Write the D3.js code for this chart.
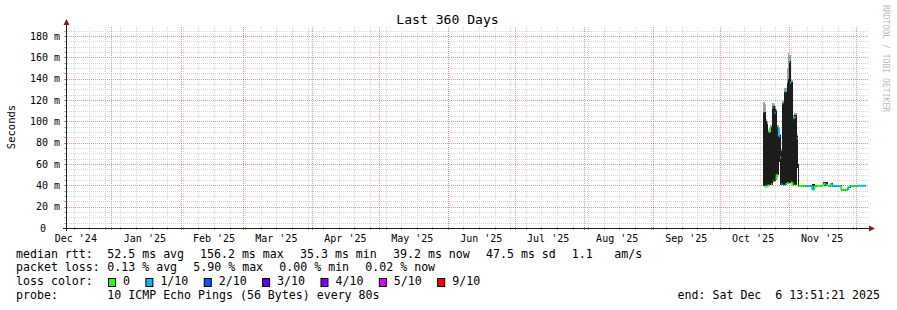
<!DOCTYPE html>
<html><head><meta charset="utf-8">
<script src="https://cdn.jsdelivr.net/npm/d3@7"></script>
<style>
html,body{margin:0;padding:0;background:#fff;}
svg text{font-family:"DejaVu Sans Mono",monospace;fill:#000;white-space:pre;}
</style></head>
<body>
<svg id="c" width="897" height="310"></svg>
<script>
// ---------- data ----------
const startTime = Date.UTC(2024, 11, 11, 13, 51, 21);
const endTime   = Date.UTC(2025, 11, 6, 13, 51, 21);
const yTicks = [0, 20, 40, 60, 80, 100, 120, 140, 160, 180];
const yTickLabels = ["0", "20 m", "40 m", "60 m", "80 m", "100 m", "120 m", "140 m", "160 m", "180 m"];
const monthLabels = ["Dec '24","Jan '25","Feb '25","Mar '25","Apr '25","May '25","Jun '25","Jul '25","Aug '25","Sep '25","Oct '25","Nov '25"];
const lossColors = ["#26ff00","#00b8ff","#0059ff","#5e00ff","#7e00ff","#dd00ff","#ff0000"];
const lossLabels = ["0","1/10","2/10","3/10","4/10","5/10","9/10"];
const medianStats = [52.5, 156.2, 35.3, 39.2, 47.5];
const lossStats = [0.13, 5.90, 0.00, 0.02];
const amps = 1.1;

// bins: day offset from start; RTT values in ms
const binDay = [313,313.5,314,314.5,315,315.5,316,316.5,317,317.5,318,318.5,319,319.5,320,320.5,
  321,321.5,322,322.5,323,323.5,324,324.5,325,325.5,326,326.5,327,327.5,328,328.5,
  329,330,331,332,333,334,335,336,337,338,339,340,341,342,343,344,345,346,347,348,349,350,351,352,353,354,355,356,357,358];
const smokeLo = [39,39,39,39,40,40,40,40,43,43,44,45,48,50,62,40,
  40,40,40,40,40,41,41,42,42,42,40,40,40,40,56,39,
  38.8,38.8,38.8,38.8,38.8,38.8,35.3,38.8,38.8,38.8,39,39.2,39.2,38.8,39.5,38.8,38.8,38.8,38.8,35,35,35,37.8,38.8,38.8,38.8,39,39,39,39];
const smokeHi = [109,109,100,98,90,90,95,95,114,114,112,110,95,95,87,72,
  72,117,117,128,128,136,140,157,137,137,104,104,106,106,86,60,
  40,40,40,40,40,40,41.5,40,40,40,40.3,43.5,43,40,42.5,40,40,40,40,36.3,36.3,36.3,39.5,40,40,40,40.3,40.3,40.3,40.3];
const smokeTop = [118,116,102,100,92,92,97,97,117,116,114,112,97,97,88,74,
  74,119,119,131,131,150,164,162,140,139,106,106,108,108,88,60,
  40,40,40,40,40,40,41.5,40,40,40,40.3,43.5,43,40,42.5,40,40,40,40,36.3,36.3,36.3,39.5,40,40,40,40.3,40.3,40.3,40.3];
const median = [109,39,39,39,40,90,94,41,113,44,108,46,50,94,86,66,
  41,117,40,128,41,42,42,156,136,43,40,103,104,40,84,39,
  39.4,39.4,39.4,39.4,39.4,39.4,36.0,39.4,39.4,39.4,39.6,41.5,40.5,39.4,41.0,39.4,39.4,39.4,39.4,35.6,35.6,35.6,38.5,39.4,39.4,39.4,39.6,39.6,39.6,39.6];
const lossCount = [1,1,0,0,0,0,0,0,0,0,1,0,0,0,1,1,
  1,1,1,1,1,0,0,1,1,0,0,0,1,0,1,0,
  0,0,0,1,1,1,1,0,0,0,0,0,1,0,0,1,1,1,1,0,0,0,1,0,0,0,1,1,1,1];

// ---------- layout ----------
const svg = d3.select("#c");
const X0 = 66, X1 = 868, Y0 = 228, YT = 27;
const x = d3.scaleUtc().domain([startTime, endTime]).range([X0, X1]);
const y = d3.scaleLinear().domain([0, 188.5]).range([Y0, YT]);
const DAY = 86400000;
const lossIdx = n => n >= 9 ? 6 : Math.min(n, 5);
const MINOR = "#d8d8d8", MAJOR = "#f27070";

const g = svg.append("g").attr("shape-rendering", "crispEdges");
d3.range(5, 188, 5).filter(v => v % 20 !== 0).forEach(v => {
  const yy = Math.round(y(v)) + 0.5;
  g.append("line").attr("x1", X0 + 1).attr("x2", X1).attr("y1", yy).attr("y2", yy)
    .attr("stroke", MINOR).attr("stroke-dasharray", "1,1");
  g.append("line").attr("x1", X0 - 2).attr("x2", X0 + 1).attr("y1", yy).attr("y2", yy).attr("stroke", "#b0b0b0");
});
const weeks = d3.utcSunday.range(new Date(startTime), new Date(endTime));
weeks.forEach(d => {
  const xx = Math.round(x(d)) + 0.5;
  g.append("line").attr("x1", xx).attr("x2", xx).attr("y1", YT).attr("y2", Y0)
    .attr("stroke", MINOR).attr("stroke-dasharray", "1,1");
  g.append("line").attr("x1", xx).attr("x2", xx).attr("y1", Y0 - 1).attr("y2", Y0 + 2).attr("stroke", "#b0b0b0");
});
// major grid on top of minor
d3.range(20, 188, 20).forEach(v => {
  const yy = Math.round(y(v)) + 0.5;
  g.append("line").attr("x1", X0 + 1).attr("x2", X1).attr("y1", yy).attr("y2", yy)
    .attr("stroke", MAJOR).attr("stroke-opacity", 0.75).attr("stroke-dasharray", "1,1");
  g.append("line").attr("x1", X0 - 2).attr("x2", X0 + 1).attr("y1", yy).attr("y2", yy).attr("stroke", "#e07070");
});
const months = d3.utcMonth.range(new Date(startTime), new Date(endTime));
months.forEach(d => {
  const xx = Math.round(x(d)) + 0.5;
  g.append("line").attr("x1", xx).attr("x2", xx).attr("y1", YT).attr("y2", Y0)
    .attr("stroke", MAJOR).attr("stroke-opacity", 0.75).attr("stroke-dasharray", "1,1");
  g.append("line").attr("x1", xx).attr("x2", xx).attr("y1", Y0 - 1).attr("y2", Y0 + 2).attr("stroke", "#e07070");
});

// smoke + median
const data = binDay.map((d, i) => ({
  t0: startTime + d * DAY,
  t1: startTime + (i + 1 < binDay.length ? binDay[i + 1] : d + 1) * DAY,
  lo: smokeLo[i], hi: smokeHi[i], top: smokeTop[i], med: median[i], loss: lossCount[i]
}));
const dg = svg.append("g");
const sg = dg.append("g").attr("shape-rendering", "crispEdges");
sg.selectAll("rect.top").data(data).join("rect")
  .attr("x", d => x(d.t0)).attr("width", d => x(d.t1) - x(d.t0) + 0.5)
  .attr("y", d => y(d.top)).attr("height", d => Math.max(0, y(d.hi) - y(d.top)))
  .attr("fill", "#a0a0a0");
sg.selectAll("rect.smk").data(data).join("rect")
  .attr("x", d => x(d.t0)).attr("width", d => x(d.t1) - x(d.t0) + 0.5)
  .attr("y", d => y(d.hi)).attr("height", d => Math.max(0, y(d.lo) - y(d.hi)))
  .attr("fill", "#1c1c1c");
data.forEach((d, i) => {
  const c = lossColors[lossIdx(d.loss)];
  dg.append("line").attr("x1", x(d.t0)).attr("x2", x(d.t1))
    .attr("y1", y(d.med)).attr("y2", y(d.med)).attr("stroke", c).attr("stroke-width", 2);
  const n = data[i + 1];
  if (n && Math.abs(n.med - d.med) < 10) {
    dg.append("line").attr("x1", x(n.t0)).attr("x2", x(n.t0))
      .attr("y1", y(d.med)).attr("y2", y(n.med))
      .attr("stroke", lossColors[lossIdx(n.loss)]).attr("stroke-width", 2);
  }
});

// axes
const ax = svg.append("g");
ax.append("line").attr("x1", X0 + 0.5).attr("x2", X0 + 0.5).attr("y1", 24).attr("y2", Y0 + 3).attr("stroke", "#222");
ax.append("line").attr("x1", X0 - 3).attr("x2", X1 + 2).attr("y1", Y0 + 0.5).attr("y2", Y0 + 0.5).attr("stroke", "#222");
ax.append("path").attr("d", `M${X0 - 2.5},25 L${X0 + 0.5},19 L${X0 + 3.5},25 Z`).attr("fill", "#8b1a1a");
ax.append("path").attr("d", `M${X1 + 1},${Y0 - 2.5} L${X1 + 7},${Y0 + 0.5} L${X1 + 1},${Y0 + 3.5} Z`).attr("fill", "#8b1a1a");

// y tick labels
yTicks.forEach((v, i) => {
  svg.append("text").attr("x", v === 0 ? 46 : 60).attr("y", y(v) + 3.6)
    .attr("text-anchor", "end").attr("font-size", 10).text(yTickLabels[i]);
});
// x labels: month start + 15 days
const labelMonths = d3.utcMonth.range(d3.utcMonth.floor(new Date(startTime)), new Date(endTime));
labelMonths.forEach((d, i) => {
  const cx = x(+d + 15 * DAY);
  if (cx < X0 || cx > X1) return;
  svg.append("text").attr("x", cx).attr("y", 242).attr("text-anchor", "middle")
    .attr("font-size", 10).text(monthLabels[i]);
});

// title & labels
svg.append("text").attr("x", 447.5).attr("y", 24).attr("text-anchor", "middle")
  .attr("font-size", 13.1).text("Last 360 Days");
svg.append("text").attr("transform", "translate(14.5,127) rotate(-90)").attr("text-anchor", "middle")
  .attr("font-size", 10.5).text("Seconds");
svg.append("text").attr("transform", "translate(883,5) rotate(90)").attr("text-anchor", "start")
  .attr("font-size", 8.1).style("fill", "#bdbdbd").text("RRDTOOL / TOBI OETIKER");

// legend
const LF = 11.6;
const leg = (s, xx, yy, anchor) => svg.append("text").attr("x", xx).attr("y", yy)
  .attr("font-size", LF).attr("text-anchor", anchor || "start").text(s);
const r1 = 257.7, r2 = 271.4, r3 = 285.1, r4 = 298.8;
leg("median rtt:", 16, r1);
leg(medianStats[0].toFixed(1) + " ms avg", 107.3, r1);
leg(medianStats[1].toFixed(1) + " ms max", 200, r1);
leg(medianStats[2].toFixed(1) + " ms min", 300, r1);
leg(medianStats[3].toFixed(1) + " ms now", 393, r1);
leg(medianStats[4].toFixed(1) + " ms sd", 486, r1);
leg(amps.toFixed(1), 571.7, r1);
leg("am/s", 614.3, r1);
leg("packet loss:", 16, r2);
leg(lossStats[0].toFixed(2) + " % avg", 107.3, r2);
leg(lossStats[1].toFixed(2) + " % max", 193.3, r2);
leg(lossStats[2].toFixed(2) + " % min", 279.3, r2);
leg(lossStats[3].toFixed(2) + " % now", 365.3, r2);
leg("loss color:", 16, r3);
let bx = 108;
lossLabels.forEach((l, i) => {
  svg.append("rect").attr("x", bx + 0.5).attr("y", 278.5).attr("width", 7).attr("height", 8)
    .attr("fill", lossColors[i]).attr("stroke", "#000").attr("stroke-width", 1);
  const tx = bx + 15;
  leg(l, tx, r3);
  bx = tx + l.length * 6.99 + 15.4;
});
leg("probe:", 16, r4);
leg("10 ICMP Echo Pings (56 Bytes) every 80s", 107.3, r4);
leg("end: Sat Dec  6 13:51:21 2025", 880, r4, "end");
</script>
</body></html>
